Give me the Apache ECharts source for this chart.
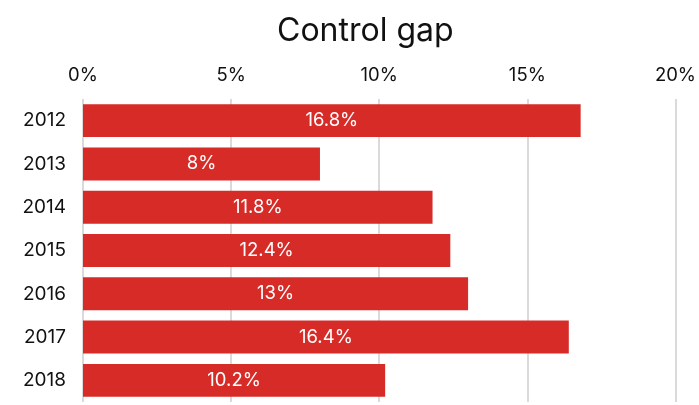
<!DOCTYPE html>
<html>
<head>
<meta charset="utf-8">
<script src="https://cdn.jsdelivr.net/npm/echarts@6/dist/echarts.min.js"></script>
<style>
  html, body { margin: 0; padding: 0; background: #fff; }
  #chart { width: 699px; height: 405px; }
</style>
</head>
<body>
<div id="chart"></div>
<script>
// data
const years = ['2012', '2013', '2014', '2015', '2016', '2017', '2018']
const gapValues = [16.8, 8, 11.8, 12.4, 13, 16.4, 10.2]
const tickLabels = ['0%', '5%', '10%', '15%', '20%']

const font = 'Inter, "Liberation Sans", Arial, sans-serif'
const chart = echarts.init(document.getElementById('chart'), null, { renderer: 'canvas' })

const option = {
    animation: false,
    title: {
        text: 'Control gap',
        left: 272,
        top: 10,
        textStyle: { fontFamily: font, fontSize: 32, fontWeight: 'normal', color: '#111' }
    },
    grid: { left: 83, right: 23, top: 99, bottom: 3 },
    xAxis: {
        type: 'value',
        position: 'top',
        min: 0,
        max: 20,
        interval: 5,
        axisLine: { show: false },
        axisTick: { show: false },
        axisLabel: {
            fontFamily: font,
            fontSize: 18.5,
            color: '#111',
            margin: 14,
            formatter: (v) => tickLabels[v / 5]
        },
        splitLine: { lineStyle: { color: '#dadada', width: 2 } }
    },
    yAxis: {
        type: 'category',
        inverse: true,
        data: years,
        axisLine: { show: false },
        axisTick: { show: false },
        axisLabel: { fontFamily: font, fontSize: 19, color: '#111', margin: 17 }
    },
    series: [
        {
            type: 'bar',
            data: gapValues,
            barCategoryGap: '24%',
            itemStyle: { color: '#d72b28' },
            label: {
                show: true,
                position: 'inside',
                fontFamily: font,
                fontSize: 18.5,
                color: '#fff',
                formatter: (p) => p.value + '%'
            }
        }
    ]
}
chart.setOption(option)
</script>
</body>
</html>
